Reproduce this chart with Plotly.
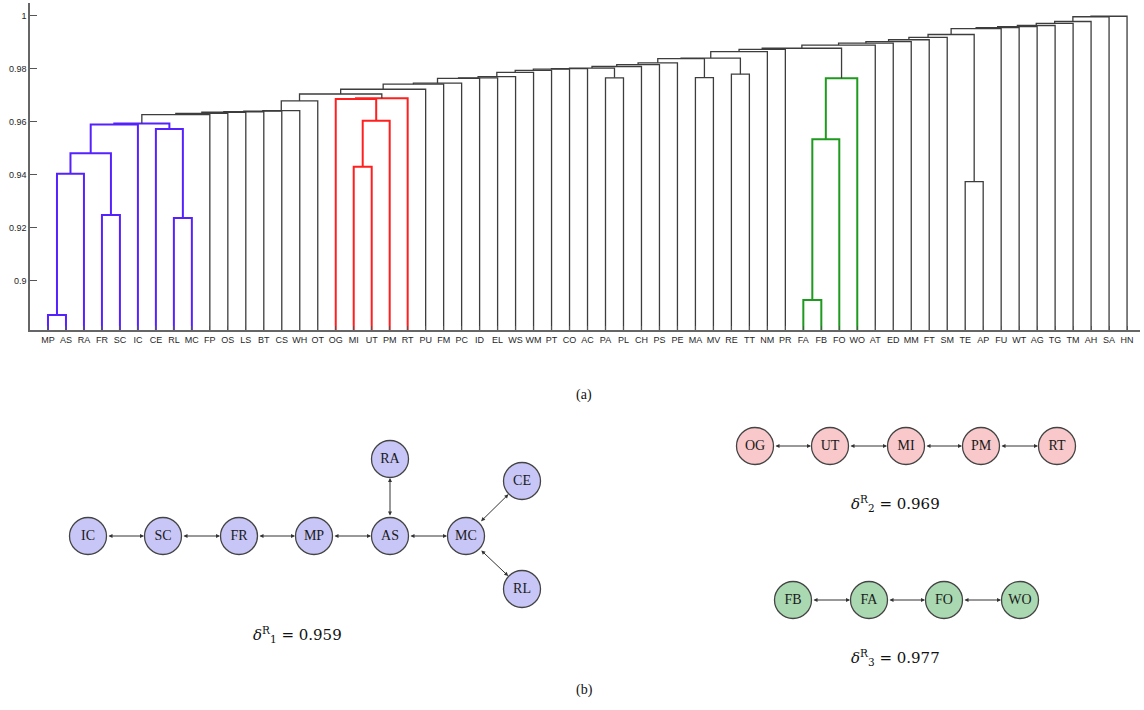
import plotly.graph_objects as go

# leaf order along the dendrogram axis
leaves = ["MP", "AS", "RA", "FR", "SC", "IC", "CE", "RL", "MC", "FP", "OS", "LS", "BT", "CS",
          "WH", "OT", "OG", "MI", "UT", "PM", "RT", "PU", "FM", "PC", "ID", "EL", "WS", "WM",
          "PT", "CO", "AC", "PA", "PL", "CH", "PS", "PE", "MA", "MV", "RE", "TT", "NM", "PR",
          "FA", "FB", "FO", "WO", "AT", "ED", "MM", "FT", "SM", "TE", "AP", "FU", "WT", "AG",
          "TG", "TM", "AH", "SA", "HN"]

# clusters: (id, left, right, height)
blue_merges = [("b1", "MP", "AS", 0.8870), ("b2", "b1", "RA", 0.9404), ("b3", "FR", "SC", 0.9248),
               ("b4", "b2", "b3", 0.9481), ("b5", "b4", "IC", 0.9590), ("b6", "RL", "MC", 0.9236),
               ("b7", "CE", "b6", 0.9573), ("b8", "b5", "b7", 0.9594)]
red_merges = [("r1", "MI", "UT", 0.9430), ("r2", "r1", "PM", 0.9604),
              ("r3", "OG", "r2", 0.9686), ("r4", "r3", "RT", 0.9689)]
green_merges = [("g1", "FA", "FB", 0.8926), ("g2", "g1", "FO", 0.9534), ("g3", "g2", "WO", 0.9765)]
pair_merges = [("p1", "PA", "PL", 0.9766), ("p2", "MA", "MV", 0.9767),
               ("p3", "RE", "TT", 0.9780), ("p4", "TE", "AP", 0.9374)]

# what joins the growing main cluster (starting from b8), and at which height
chain = [("FP", 0.9627), ("OS", 0.9632), ("LS", 0.9636), ("BT", 0.9638), ("CS", 0.9640),
         ("WH", 0.9642), ("OT", 0.9679), ("r4", 0.9705), ("PU", 0.9723), ("FM", 0.9742),
         ("PC", 0.9746), ("ID", 0.9764), ("EL", 0.9766), ("WS", 0.9771), ("WM", 0.9787),
         ("PT", 0.9794), ("CO", 0.9799), ("AC", 0.9801), ("p1", 0.9803), ("CH", 0.9809),
         ("PS", 0.9816), ("PE", 0.9823), ("p2", 0.9839), ("p3", 0.9841), ("NM", 0.9865),
         ("PR", 0.9874), ("g3", 0.9878), ("AT", 0.9890), ("ED", 0.9897), ("MM", 0.9903),
         ("FT", 0.9910), ("SM", 0.9919), ("p4", 0.9930), ("FU", 0.9952), ("WT", 0.9956),
         ("AG", 0.9960), ("TG", 0.9964), ("TM", 0.9972), ("AH", 0.9979), ("SA", 0.9997),
         ("HN", 0.9999)]

y_ticks = [0.9, 0.92, 0.94, 0.96, 0.98, 1]
y_ticktext = ["0.9", "0.92", "0.94", "0.96", "0.98", "1"]

# sub-networks
blue_nodes = ["IC", "SC", "FR", "MP", "AS", "MC", "RA", "CE", "RL"]
blue_edges = [("IC", "SC"), ("SC", "FR"), ("FR", "MP"), ("MP", "AS"), ("AS", "MC"),
              ("AS", "RA"), ("MC", "CE"), ("MC", "RL")]
red_nodes = ["OG", "UT", "MI", "PM", "RT"]
red_edges = [("OG", "UT"), ("UT", "MI"), ("MI", "PM"), ("PM", "RT")]
green_nodes = ["FB", "FA", "FO", "WO"]
green_edges = [("FB", "FA"), ("FA", "FO"), ("FO", "WO")]
deltas = [0.959, 0.969, 0.977]

# layout positions of the graph nodes (page pixels)
pos = {"IC": (88, 536), "SC": (163, 536), "FR": (239, 536), "MP": (314, 536),
       "AS": (390, 536), "MC": (466, 536), "RA": (390, 459), "CE": (522, 481), "RL": (522, 589),
       "OG": (755, 446), "UT": (830, 446), "MI": (906, 446), "PM": (981, 446), "RT": (1057, 446),
       "FB": (793, 600), "FA": (869, 600), "FO": (944, 600), "WO": (1020, 600)}

BLUE = "#5522ff"
RED = "#ff1f1f"
GREEN = "#1e9a1e"
BLACK = "#3d3d3d"
BOTTOM = 0.8813

# ---- dendrogram geometry
xpos = {name: i + 1 for i, name in enumerate(leaves)}
hgt = {name: BOTTOM for name in leaves}
segs = {BLUE: ([], []), RED: ([], []), GREEN: ([], []), BLACK: ([], [])}


def link(nid, a, b, h, col):
    xs, ys = segs[col]
    xs += [xpos[a], xpos[a], xpos[b], xpos[b], None]
    ys += [hgt[a], h, h, hgt[b], None]
    xpos[nid] = (xpos[a] + xpos[b]) / 2
    hgt[nid] = h


for merges, col in [(blue_merges, BLUE), (red_merges, RED), (green_merges, GREEN), (pair_merges, BLACK)]:
    for nid, a, b, h in merges:
        link(nid, a, b, h, col)

cur = "b8"
for i, (child, h) in enumerate(chain):
    nid = "k%d" % i
    link(nid, cur, child, h, BLACK)
    cur = nid

fig = go.Figure()
for col, (xs, ys) in segs.items():
    fig.add_trace(go.Scatter(x=xs, y=ys, mode="lines", line=dict(color=col, width=2 if col != BLACK else 1.3),
                             hoverinfo="skip", showlegend=False))

# ---- networks
fills = {"b": "#c8c6f6", "r": "#f8c8ca", "g": "#a9d8b1"}
for nodes, edges, key in [(blue_nodes, blue_edges, "b"), (red_nodes, red_edges, "r"),
                          (green_nodes, green_edges, "g")]:
    fig.add_trace(go.Scatter(
        x=[pos[n][0] for n in nodes], y=[pos[n][1] for n in nodes], text=nodes,
        mode="markers+text", textposition="middle center",
        marker=dict(size=37, color=fills[key], line=dict(color="#444444", width=1.3)),
        textfont=dict(family="Liberation Serif", size=14, color="#1a1a1a"),
        xaxis="x2", yaxis="y2", hoverinfo="skip", showlegend=False))
    for a, b in edges:
        fig.add_annotation(x=pos[b][0], y=pos[b][1], ax=pos[a][0], ay=pos[a][1],
                           xref="x2", yref="y2", axref="x2", ayref="y2", text="",
                           showarrow=True, arrowhead=2, startarrowhead=2, arrowside="end+start",
                           arrowsize=0.8, startarrowsize=0.8, arrowwidth=1, arrowcolor="#333333",
                           standoff=19, startstandoff=19)

for i, (d, (tx, ty)) in enumerate(zip(deltas, [(297, 634), (895, 503), (895, 657)])):
    fig.add_annotation(x=tx, y=ty, xref="x2", yref="y2", showarrow=False,
                       text="<i>δ</i><sup>R</sup><sub>%d</sub> = %.3f" % (i + 1, d),
                       font=dict(family="DejaVu Serif", size=15, color="#111111"))

fig.add_annotation(x=584, y=395, xref="x2", yref="y2", text="(a)", showarrow=False,
                   font=dict(family="Liberation Serif", size=14, color="#111111"))
fig.add_annotation(x=584, y=690, xref="x2", yref="y2", text="(b)", showarrow=False,
                   font=dict(family="Liberation Serif", size=14, color="#111111"))

fig.update_layout(
    width=1144, height=710, margin=dict(l=0, r=0, t=0, b=0),
    plot_bgcolor="rgba(0,0,0,0)", paper_bgcolor="white",
    xaxis=dict(domain=[30 / 1144, 1140 / 1144], range=[0, 61.72], tickvals=list(range(1, 62)),
               ticktext=leaves, ticks="inside", ticklen=4, tickcolor="#555555",
               showline=True, linecolor="#666666", linewidth=1.5, showgrid=False, zeroline=False,
               tickangle=0, tickfont=dict(family="Liberation Sans", size=9, color="#262626"),
               anchor="y", automargin=False),
    yaxis=dict(domain=[1 - 330 / 710, 1 - 3 / 710], range=[BOTTOM, 1.0049], tickvals=y_ticks,
               ticktext=y_ticktext, ticks="inside", ticklen=7, tickcolor="#555555",
               showline=True, linecolor="#666666", linewidth=1.5, showgrid=False, zeroline=False,
               tickfont=dict(family="Liberation Sans", size=9, color="#262626"),
               anchor="x", automargin=False),
    xaxis2=dict(domain=[0, 1], range=[0, 1144], visible=False, anchor="y2"),
    yaxis2=dict(domain=[0, 1], range=[710, 0], visible=False, anchor="x2"),
)

fig.write_html("out.html", config={"displayModeBar": False},
               post_script="document.body.style.margin='0';")
